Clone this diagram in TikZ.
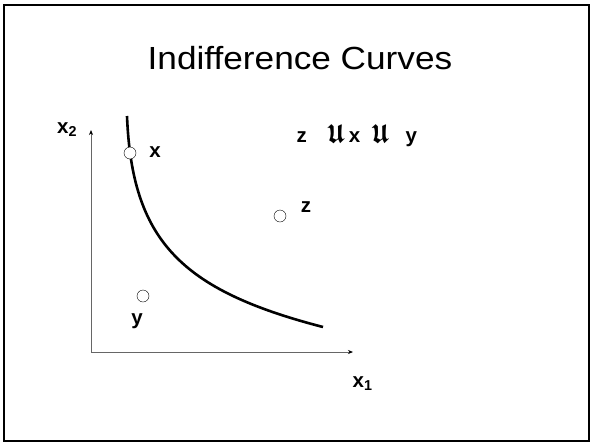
\documentclass[tikz,border=0pt]{standalone}
\usepackage{amsmath,amssymb,graphicx}
\usepackage{fontspec}
\setmainfont{Liberation Sans}
\usetikzlibrary{arrows.meta}
\newcommand{\prefsym}{\resizebox{17pt}{18pt}{$\boldsymbol{\mathfrak{u}}$}}
\tikzset{
  pt/.style={circle,draw,thin,minimum size=12pt,inner sep=0pt,fill=white},
  lbl/.style={font=\fontsize{20.5}{22}\selectfont\bfseries,inner sep=0pt},
  axis/.style={draw=black!60,line width=0.8pt,-{Stealth[length=5pt,width=4pt,black]}}
}
\begin{document}
\begin{tikzpicture}[x=1pt,y=-1pt]
\useasboundingbox (0,0) rectangle (592,445);
\draw[line width=2.2pt] (4,5) rectangle (589,441);
\node[font=\fontsize{32}{34}\selectfont,inner sep=0pt,anchor=base] (title) at (300,69.3) {\scalebox{1.1}[1]{Indifference Curves}};
\coordinate (o) at (91,352);
\coordinate (ytop) at (91,130);
\coordinate (xend) at (353,352);
\draw[axis] (o) -- (ytop);
\draw[axis] (o) -- (xend);
\node[lbl,anchor=base west] (x2) at (57,133) {x\textsubscript{2}};
\node[lbl,anchor=base west] (x1) at (352.5,387) {x\textsubscript{1}};
\coordinate (c0) at (127,116);
\coordinate (c2) at (323,327);
\draw[line width=2.6pt] (c0) .. controls (132,240) and (180,290) .. (c2);
\node[pt] (px) at (130,153) {};
\node[pt] (pz) at (280,216) {};
\node[pt] (py) at (143,296) {};
\node[lbl] (lx) at (155,152) {x};
\node[lbl] (lz) at (306,207) {z};
\node[lbl] (ly) at (137,321) {y};
\node[lbl,anchor=base west] (pref) at (296.5,142.7) {z\hspace{20.5pt}\prefsym\hspace{4.5pt}x\hspace{11.3pt}\prefsym\hspace{17pt}y};
\end{tikzpicture}
\end{document}
